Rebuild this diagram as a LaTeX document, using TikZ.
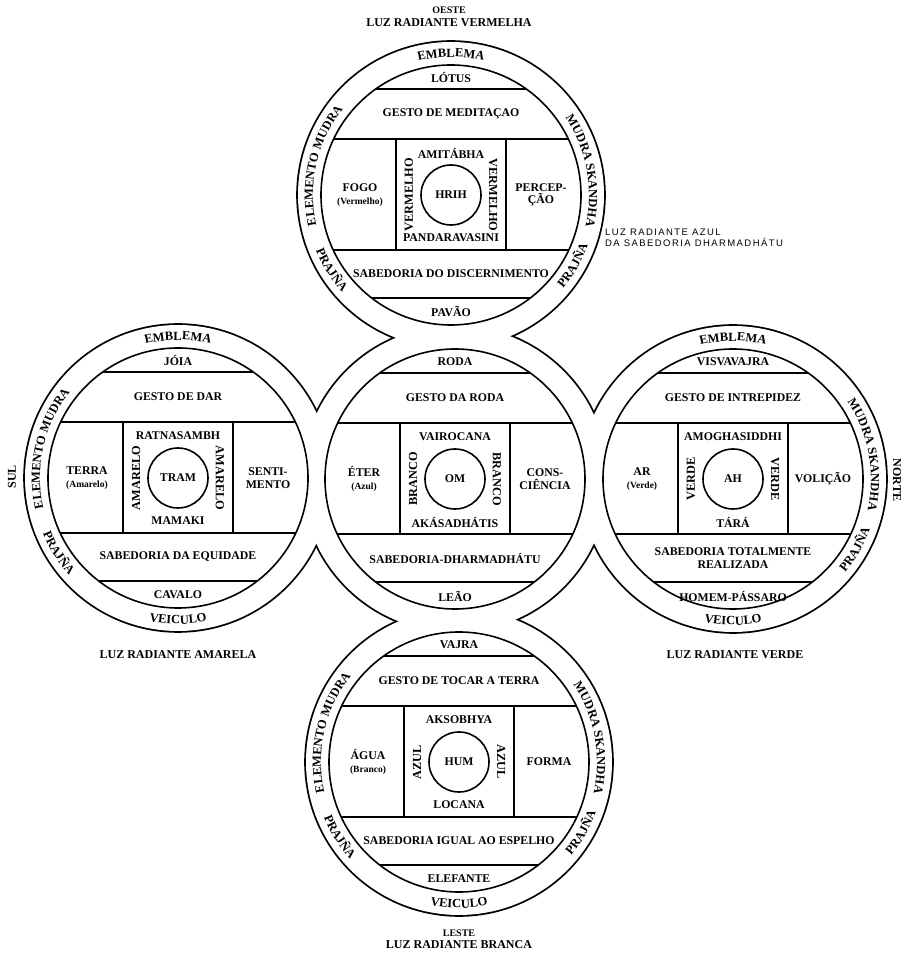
\documentclass[tikz,border=0pt]{standalone}
\usepackage{fontspec}
\setmainfont{Liberation Serif}
\newfontfamily\sansf{Liberation Sans}
\newfontfamily\ringfam[UprightFont={* Bold},BoldFont={* Bold}]{Liberation Serif}
\usetikzlibrary{decorations.text}
\newcommand\ringfont{\ringfam\fontsize{12.5}{12.5}\selectfont}
\newcommand\ringtext[4]{{\ringfont\path[decorate,decoration={text along path,text align=center,text={|\ringfont|#4}}] (#1:#3) arc[start angle=#1,end angle=#2,radius=#3];}}
\newcommand\subf{\fontsize{9.5}{10}\selectfont}
\newcommand\mandalaframe{%
  \draw[ln] (0,0) circle (130);
  \begin{scope}
    \clip (0,0) circle (130);
    \draw[ln] (-140,106) -- (140,106);
    \draw[ln] (-140,56) -- (140,56);
    \draw[ln] (-140,-55) -- (140,-55);
    \draw[ln] (-140,-103) -- (140,-103);
  \end{scope}
  \draw[ln] (-55,56) -- (-55,-55);
  \draw[ln] (55,56) -- (55,-55);
  \draw[ln] (0,0) circle (30);
}
\newcommand\leftring{%
  \ringtext{193}{141}{138}{ELEMENTO MUDRA}
  \ringtext{198}{226}{146}{PRAJÑA}}
\newcommand\rightring{%
  \ringtext{40}{-19}{138}{MUDRA SKANDHA}
  \ringtext{-46}{-14}{146}{PRAJÑA}}
\begin{document}
\begin{tikzpicture}[x=1pt,y=1pt,
  ln/.style={line width=1.6pt},
  lbl/.style={font=\fontsize{11.8}{12.5}\selectfont\bfseries,align=center,inner sep=0pt},
  side/.style={font=\fontsize{12.3}{12.5}\selectfont\bfseries,inner sep=0pt},
  ttl/.style={font=\fontsize{12}{12}\selectfont\bfseries,inner sep=0pt},
  ttls/.style={font=\fontsize{10}{10}\selectfont\bfseries,inner sep=0pt}]
\useasboundingbox (0,0) rectangle (911,954);
\coordinate (T) at (451,759);
\coordinate (C) at (455,475);
\coordinate (B) at (459,192);
\coordinate (L) at (178,476);
\coordinate (R) at (733,475);
\foreach \m in {T,C,B,L,R} \draw[line width=3.6pt] (\m) circle (153);
\foreach \m in {T,C,B,L,R} \fill[white] (\m) circle (153);

% ---------- top (OESTE)
\begin{scope}[shift={(T)}]
\mandalaframe
\node[lbl] (Tem) at (0,117) {LÓTUS};
\node[lbl] (Tge) at (0,81) {GESTO DE MEDITAÇAO};
\node[lbl] (Tle) at (-91,0) {FOGO\\{\subf(Vermelho)}};
\node[lbl] (Tri) at (90,0) {PERCEP-\\ÇÃO};
\node[lbl] (Tst) at (0,42) {AMITÁBHA};
\node[lbl] (Tsb) at (0,-43) {PANDARAVASINI};
\node[side,rotate=90] (Tsa) at (-42,0) {VERMELHO};
\node[side,rotate=-90] (Tsc) at (42,0) {VERMELHO};
\node[lbl] (Tse) at (0,0) {HRIH};
\node[lbl] (Twi) at (0,-79) {SABEDORIA DO DISCERNIMENTO};
\node[lbl] (Tve) at (0,-117) {PAVÃO};
\ringtext{115}{65}{138}{EMBLEMA}
\leftring
\rightring
\end{scope}

% ---------- center
\begin{scope}[shift={(C)}]
\mandalaframe
\node[lbl] (Cem) at (0,117) {RODA};
\node[lbl] (Cge) at (0,81) {GESTO DA RODA};
\node[lbl] (Cle) at (-91,0) {ÉTER\\{\subf(Azul)}};
\node[lbl] (Cri) at (90,0) {CONS-\\CIÊNCIA};
\node[lbl] (Cst) at (0,42) {VAIROCANA};
\node[lbl] (Csb) at (0,-43) {AKÁSADHÁTIS};
\node[side,rotate=90] (Csa) at (-42,0) {BRANCO};
\node[side,rotate=-90] (Csc) at (42,0) {BRANCO};
\node[lbl] (Cse) at (0,0) {OM};
\node[lbl] (Cwi) at (0,-79) {SABEDORIA-DHARMADHÁTU};
\node[lbl] (Cve) at (0,-117) {LEÃO};
\end{scope}

% ---------- left (SUL)
\begin{scope}[shift={(L)}]
\mandalaframe
\node[lbl] (Lem) at (0,117) {JÓIA};
\node[lbl] (Lge) at (0,81) {GESTO DE DAR};
\node[lbl] (Lle) at (-91,0) {TERRA\\{\subf(Amarelo)}};
\node[lbl] (Lri) at (90,0) {SENTI-\\MENTO};
\node[lbl] (Lst) at (0,42) {RATNASAMBH};
\node[lbl] (Lsb) at (0,-43) {MAMAKI};
\node[side,rotate=90] (Lsa) at (-42,0) {AMARELO};
\node[side,rotate=-90] (Lsc) at (42,0) {AMARELO};
\node[lbl] (Lse) at (0,0) {TRAM};
\node[lbl] (Lwi) at (0,-79) {SABEDORIA DA EQUIDADE};
\node[lbl] (Lve) at (0,-117) {CAVALO};
\ringtext{115}{65}{138}{EMBLEMA}
\ringtext{245}{295}{146}{VEICULO}
\leftring
\end{scope}

% ---------- right (NORTE)
\begin{scope}[shift={(R)}]
\mandalaframe
\node[lbl] (Rem) at (0,117) {VISVAVAJRA};
\node[lbl] (Rge) at (0,81) {GESTO DE INTREPIDEZ};
\node[lbl] (Rle) at (-91,0) {AR\\{\subf(Verde)}};
\node[lbl] (Rri) at (90,0) {VOLIÇÃO};
\node[lbl] (Rst) at (0,42) {AMOGHASIDDHI};
\node[lbl] (Rsb) at (0,-43) {TÁRÁ};
\node[side,rotate=90] (Rsa) at (-42,0) {VERDE};
\node[side,rotate=-90] (Rsc) at (42,0) {VERDE};
\node[lbl] (Rse) at (0,0) {AH};
\node[lbl] (Rwi) at (0,-79) {SABEDORIA TOTALMENTE\\REALIZADA};
\node[lbl] (Rve) at (0,-117) {HOMEM-PÁSSARO};
\ringtext{115}{65}{138}{EMBLEMA}
\ringtext{245}{295}{146}{VEICULO}
\rightring
\end{scope}

% ---------- bottom (LESTE)
\begin{scope}[shift={(B)}]
\mandalaframe
\node[lbl] (Bem) at (0,117) {VAJRA};
\node[lbl] (Bge) at (0,81) {GESTO DE TOCAR A TERRA};
\node[lbl] (Ble) at (-91,0) {ÁGUA\\{\subf(Branco)}};
\node[lbl] (Bri) at (90,0) {FORMA};
\node[lbl] (Bst) at (0,42) {AKSOBHYA};
\node[lbl] (Bsb) at (0,-43) {LOCANA};
\node[side,rotate=90] (Bsa) at (-42,0) {AZUL};
\node[side,rotate=-90] (Bsc) at (42,0) {AZUL};
\node[lbl] (Bse) at (0,0) {HUM};
\node[lbl] (Bwi) at (0,-79) {SABEDORIA IGUAL AO ESPELHO};
\node[lbl] (Bve) at (0,-117) {ELEFANTE};
\ringtext{245}{295}{146}{VEICULO}
\leftring
\rightring
\end{scope}

% ---------- outer labels
\node[ttls] (oeste) at (449,944) {OESTE};
\node[ttl] (luzverm) at (449,931) {LUZ RADIANTE VERMELHA};
\node[ttls] (leste) at (459,21) {LESTE};
\node[ttl] (luzbran) at (459,9) {LUZ RADIANTE BRANCA};
\node[ttl] (luzamar) at (178,299) {LUZ RADIANTE AMARELA};
\node[ttl] (luzverd) at (735,299) {LUZ RADIANTE VERDE};
\node[ttl,rotate=90] (sul) at (12,477) {SUL};
\node[ttl,rotate=-90] (norte) at (897,474) {NORTE};
\node[anchor=west,align=left,inner sep=0pt,font=\sansf\fontsize{9.5}{10.5}\selectfont\addfontfeature{LetterSpace=15}] (azul) at (605,716) {LUZ RADIANTE AZUL\\DA SABEDORIA DHARMADHÁTU};
\end{tikzpicture}
\end{document}
